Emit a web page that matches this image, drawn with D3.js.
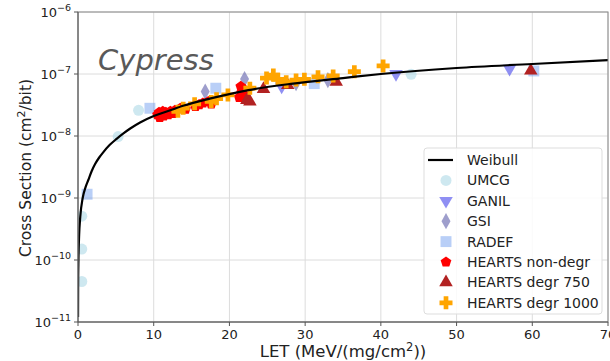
<!DOCTYPE html>
<html><head><meta charset="utf-8">
<script src="https://cdn.jsdelivr.net/npm/d3@7"></script>
<style>body{margin:0;background:#fff}svg{display:block}text{font-family:"DejaVu Sans",sans-serif}</style>
</head><body>
<svg id="c" width="610" height="361"></svg>
<script>
// ---- data ----
const xTicks = [0,10,20,30,40,50,60,70];
const yTickExps = [-11,-10,-9,-8,-7,-6];
const weibullLET = [0.006,0.02,0.06,0.15,0.3,0.62,1.0,1.36,1.8,2.24,2.8,3.3,4.2,5.1,6.0,6.9,8.2,10,12,14,17.4,22.5,28.4,35,40,50,60,70];
const weibullXS  = [1.2e-11,4e-11,1e-10,2.5e-10,5e-10,1e-9,1.5e-9,1.95e-9,2.7e-9,3.5e-9,4.5e-9,5.4e-9,7.2e-9,9.0e-9,1.1e-8,1.32e-8,1.65e-8,2.1e-8,2.55e-8,3.1e-8,4.0e-8,5.5e-8,7.0e-8,8.6e-8,1.0e-7,1.25e-7,1.45e-7,1.68e-7];
const umcgLET = [0.5,0.5,0.5,5.3,8.0,44.0];
const umcgXS  = [4.5e-11,1.5e-10,5.1e-10,9.8e-9,2.6e-8,9.9e-8];
const ganilLET = [26.9,42.0,57.0];
const ganilXS  = [6.3e-8,1.0e-7,1.22e-7];
const gsiLET = [16.8,22.0,28.8,33.0];
const gsiXS  = [5.2e-8,8.3e-8,7.1e-8,8.0e-8];
const radefLET = [1.2,9.5,18.2,31.2,60.2];
const radefXS  = [1.15e-9,2.8e-8,5.9e-8,7.0e-8,1.12e-7];
const nondegLET = [10.5,10.8,11.0,11.3,11.6,11.9,12.2,12.5,12.8,11.2,10.7,13.5,14.2,15.5,16.0,16.5,17.2,17.6,21.3,21.6,21.8,22.0,21.5];
const nondegXS  = [2.2e-8,2.0e-8,2.3e-8,2.1e-8,2.4e-8,2.2e-8,2.5e-8,2.3e-8,2.6e-8,2.5e-8,2.4e-8,2.8e-8,2.7e-8,3.0e-8,3.2e-8,3.4e-8,3.6e-8,3.3e-8,4.2e-8,5.0e-8,5.8e-8,4.6e-8,6.3e-8];
const deg750LET = [22.3,22.7,24.5,27.7,34.1,59.8];
const deg750XS  = [3.8e-8,3.6e-8,5.7e-8,6.6e-8,7.5e-8,1.13e-7];
const deg1000LET = [13.2,13.9,15.4,17.6,18.3,19.8,22.7,24.9,25.8,26.4,27.5,28.8,29.9,31.7,33.7,36.5,40.3];
const deg1000XS  = [2.5e-8,2.8e-8,3.3e-8,3.6e-8,4.0e-8,4.6e-8,5.9e-8,8.6e-8,9.6e-8,8.2e-8,7.5e-8,8.0e-8,8.2e-8,9.0e-8,9.3e-8,1.09e-7,1.35e-7];
const legendLabels = ["Weibull","UMCG","GANIL","GSI","RADEF","HEARTS non-degr","HEARTS degr 750","HEARTS degr 1000"];

// ---- layout ----
const svg = d3.select("#c");
const L=78, R=608, T=12, B=322;
const x = d3.scaleLinear().domain([0,70]).range([L,R]);
const y = d3.scaleLog().domain([1e-11,1e-6]).range([B,T]);

function poly(n, r, rot){const p=[];for(let i=0;i<n;i++){const a=rot+i*2*Math.PI/n;p.push([r*Math.cos(a),r*Math.sin(a)]);}return "M"+p.map(q=>q.join(",")).join("L")+"Z";}
function marker(type, s){
  switch(type){
    case "circle": return d3.symbol(d3.symbolCircle, s*s*0.785)();
    case "tdown": return poly(3, s*0.6, Math.PI/2);
    case "tup": return poly(3, s*0.6, -Math.PI/2);
    case "thin": {const w=s*0.32,h=s*0.58;return `M0,${-h}L${w},0L0,${h}L${-w},0Z`;}
    case "square": {const h=s*0.42;return `M${-h},${-h}H${h}V${h}H${-h}Z`;}
    case "pent": return poly(5, s*0.45, -Math.PI/2);
    case "plus": {const a=s*0.5,b=s*0.18;return `M${-b},${-a}H${b}V${-b}H${a}V${b}H${b}V${a}H${-b}V${b}H${-a}V${-b}H${-b}Z`;}
  }
}
const series = [
  {lx:umcgLET, ly:umcgXS, type:"circle", size:11, fill:"#add8e6", op:0.6},
  {lx:ganilLET, ly:ganilXS, type:"tdown", size:13, fill:"#6060ee", op:0.7},
  {lx:gsiLET, ly:gsiXS, type:"thin", size:14, fill:"#6a6ab0", op:0.65},
  {lx:radefLET, ly:radefXS, type:"square", size:13, fill:"#6495ed", op:0.45},
  {lx:nondegLET, ly:nondegXS, type:"pent", size:12.5, fill:"#ff0000", op:1},
  {lx:deg750LET, ly:deg750XS, type:"tup", size:13, fill:"#b22222", op:1},
  {lx:deg1000LET, ly:deg1000XS, type:"plus", size:13, fill:"#ffa500", op:1},
];

// grid
const g = svg.append("g");
g.selectAll(".vg").data(xTicks).join("line").attr("x1",d=>x(d)).attr("x2",d=>x(d)).attr("y1",T).attr("y2",B).attr("stroke","#dcdcdc").attr("stroke-width",1);
g.selectAll(".hg").data(yTickExps).join("line").attr("x1",L).attr("x2",R).attr("y1",d=>y(Math.pow(10,d))).attr("y2",d=>y(Math.pow(10,d))).attr("stroke","#dcdcdc").attr("stroke-width",1);

svg.append("clipPath").attr("id","clip").append("rect").attr("x",L).attr("y",T).attr("width",R-L).attr("height",B-T);
const plot = svg.append("g").attr("clip-path","url(#clip)");

series.forEach(s=>{
  plot.append("g").selectAll("path").data(s.lx.map((v,i)=>[v,s.ly[i]])).join("path")
    .attr("transform",d=>`translate(${x(d[0])},${y(d[1])})`)
    .attr("d",marker(s.type,s.size)).attr("fill",s.fill).attr("fill-opacity",s.op);
});
const line = d3.line().x(d=>x(d[0])).y(d=>y(d[1])).curve(d3.curveMonotoneX);
plot.append("path").datum(weibullLET.map((v,i)=>[v,weibullXS[i]])).attr("d",line).attr("fill","none").attr("stroke","#000").attr("stroke-width",2.2);

// frame
svg.append("rect").attr("x",L).attr("y",T).attr("width",R-L).attr("height",B-T).attr("fill","none").attr("stroke","#888").attr("stroke-width",1);
svg.append("line").attr("x1",L).attr("x2",L).attr("y1",T).attr("y2",B).attr("stroke","#555");
svg.append("line").attr("x1",L).attr("x2",R).attr("y1",B).attr("y2",B).attr("stroke","#555");

const xa = svg.append("g");
xTicks.forEach(t=>{
  xa.append("line").attr("x1",x(t)).attr("x2",x(t)).attr("y1",B).attr("y2",B+4).attr("stroke","#555");
  xa.append("text").attr("x",x(t)).attr("y",B+17).attr("text-anchor","middle").attr("font-size",13).attr("fill","#222").text(t);
});
const ya = svg.append("g");
yTickExps.forEach(e=>{
  const yy=y(Math.pow(10,e));
  ya.append("line").attr("x1",L-4).attr("x2",L).attr("y1",yy).attr("y2",yy).attr("stroke","#555");
  const t=ya.append("text").attr("x",L-7).attr("y",yy+5).attr("text-anchor","end").attr("font-size",13).attr("fill","#222");
  t.append("tspan").text("10");
  t.append("tspan").attr("dy",-6).attr("font-size",9.5).text("\u2212"+Math.abs(e));
  if(e>-6){ for(let k=2;k<10;k++){const ym=y(k*Math.pow(10,e));ya.append("line").attr("x1",L-2).attr("x2",L).attr("y1",ym).attr("y2",ym).attr("stroke","#777");}}
});

const xl = svg.append("text").attr("x",(L+R)/2).attr("y",357).attr("text-anchor","middle").attr("font-size",16.5).attr("fill","#222");
xl.append("tspan").text("LET (MeV/(mg/cm");
xl.append("tspan").attr("dy",-6).attr("font-size",11.5).text("2");
xl.append("tspan").attr("dy",6).text("))");
const yl = svg.append("text").attr("transform","translate(31,168) rotate(-90)").attr("text-anchor","middle").attr("font-size",15.5).attr("fill","#222");
yl.append("tspan").text("Cross Section (cm");
yl.append("tspan").attr("dy",-6).attr("font-size",11).text("2");
yl.append("tspan").attr("dy",6).text("/bit)");

svg.append("text").attr("x",98).attr("y",70).attr("font-family","'Open Sans','Liberation Sans',sans-serif").attr("font-style","italic").attr("font-size",29).attr("fill","#595959").text("Cypress");

const lg = svg.append("g");
lg.append("rect").attr("x",424).attr("y",148).attr("width",178).attr("height",166).attr("rx",3).attr("fill","#fff").attr("fill-opacity",0.85).attr("stroke","#ddd");
legendLabels.forEach((lab,i)=>{
  const yy = 160 + i*20.4;
  if(i===0){lg.append("line").attr("x1",428).attr("x2",453).attr("y1",yy).attr("y2",yy).attr("stroke","#000").attr("stroke-width",2.2);}
  else {const s=series[i-1];lg.append("path").attr("transform",`translate(446,${yy})`).attr("d",marker(s.type,s.size)).attr("fill",s.fill).attr("fill-opacity",s.op);}
  lg.append("text").attr("x",467).attr("y",yy+5).attr("font-size",14).attr("fill","#222").text(lab);
});
</script>
</body></html>
